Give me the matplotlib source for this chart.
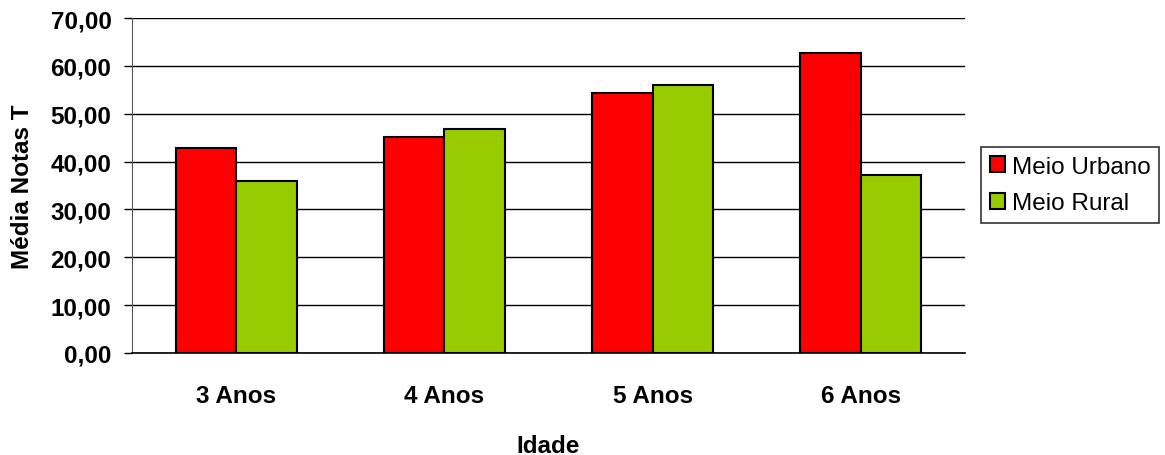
import numpy as np
import matplotlib
matplotlib.use('Agg')
import matplotlib.pyplot as plt
from matplotlib.ticker import FuncFormatter

# valores
idades = ['3 Anos', '4 Anos', '5 Anos', '6 Anos']
urbano = [42.8, 45.2, 54.3, 62.7]
rural = [35.9, 46.8, 55.9, 37.1]

plt.rcParams['font.family'] = ['Liberation Sans', 'DejaVu Sans']

fig = plt.figure(figsize=(11.65, 4.56), dpi=100)
ax = fig.add_axes([132/1165, 102/456, 833/1165, 335/456])

x = np.arange(len(idades))
w = 0.29
ax.bar(x - w/2, urbano, w, color='#ff0000', edgecolor='black', linewidth=1.5,
       label='Meio Urbano', zorder=3)
ax.bar(x + w/2, rural, w, color='#99cc00', edgecolor='black', linewidth=1.5,
       label='Meio Rural', zorder=3)

ax.set_xlim(-0.5, len(idades) - 0.5)
ax.set_ylim(0, 70)
ax.set_yticks(np.arange(0, 71, 10))
ax.yaxis.set_major_formatter(FuncFormatter(lambda v, p: f'{v:.2f}'.replace('.', ',')))
ax.yaxis.grid(True, color='black', linewidth=1, zorder=0)
ax.set_xticks(x)
ax.set_xticklabels(idades)
ax.tick_params(axis='x', length=0, pad=22, labelsize=17.5)
ax.tick_params(axis='y', length=5.8, width=1, labelsize=17.5, pad=9)
for t in ax.get_xticklabels() + ax.get_yticklabels():
    t.set_fontweight('bold')

ax.spines['top'].set_visible(False)
ax.spines['right'].set_visible(False)
ax.spines['left'].set_color('#555555')
ax.spines['bottom'].set_linewidth(1.2)

ax.set_ylabel('Média Notas T', fontsize=17.5, fontweight='bold', labelpad=12)
ax.set_xlabel('Idade', fontsize=17.5, fontweight='bold', labelpad=19.5)

leg = ax.legend(loc='center left', bbox_to_anchor=(981/1165, 270/456),
                bbox_transform=fig.transFigure, frameon=True, fancybox=False,
                edgecolor='black', fontsize=17.5, handlelength=0.62,
                handleheight=0.62, handletextpad=0.3, borderpad=0.35,
                borderaxespad=0, labelspacing=0.6)
leg.get_frame().set_linewidth(1.2)

fig.savefig('out.png', dpi=100)
